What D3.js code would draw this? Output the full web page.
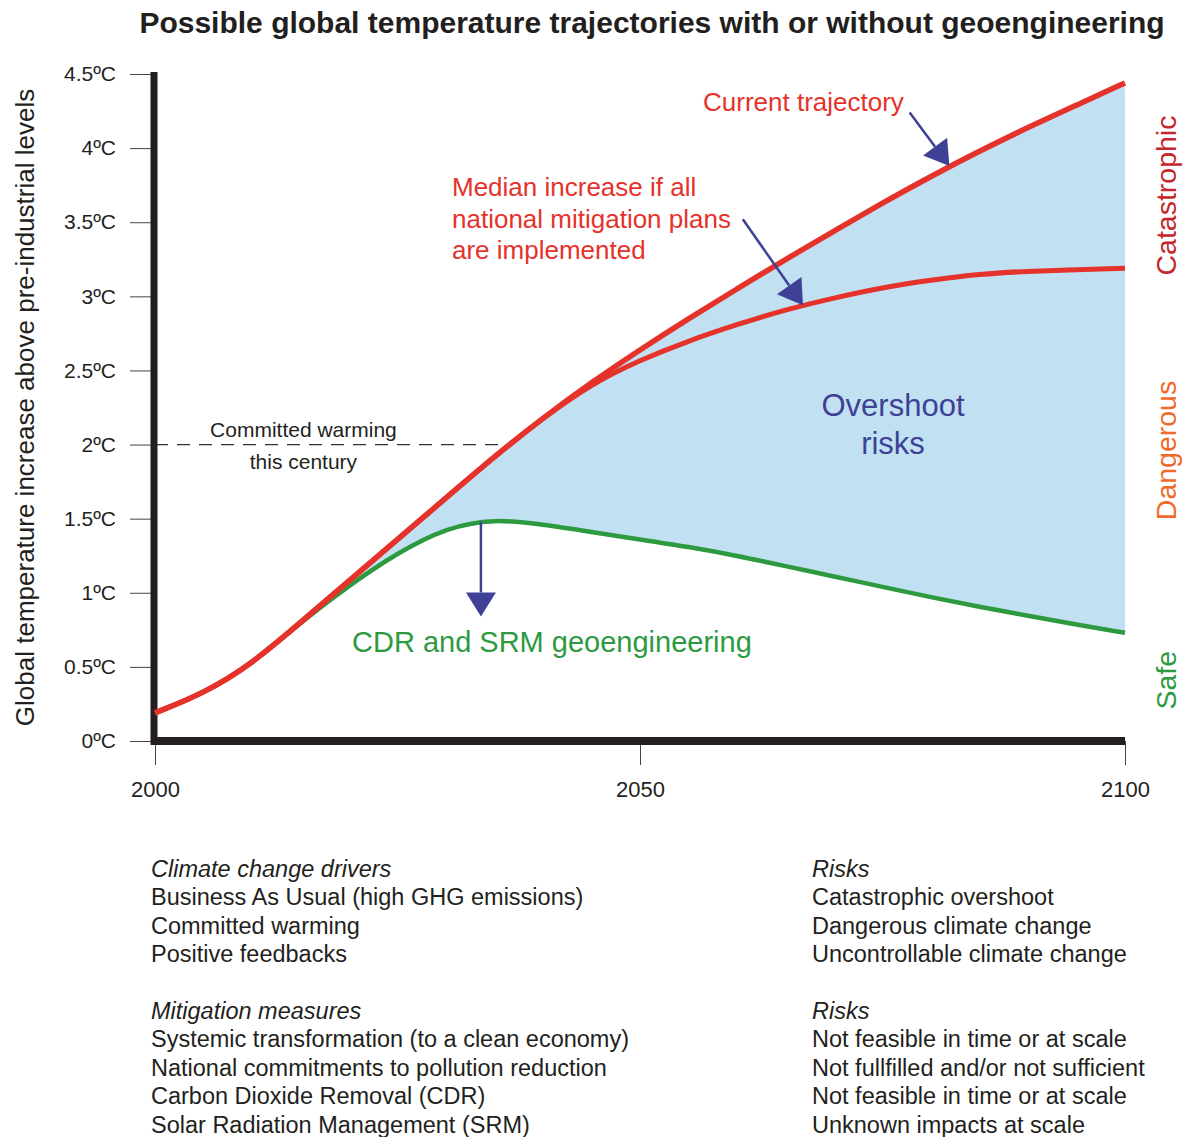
<!DOCTYPE html>
<html lang="en">
<head>
<meta charset="UTF-8">
<title>Temperature trajectories</title>
<script src="https://d3js.org/d3.v7.min.js"></script>
<style>
  body { margin: 0; background: #fff; }
  text { font-family: "Liberation Sans", Arial, Helvetica, sans-serif; }
</style>
</head>
<body>
<svg></svg>
<script>
    var width = 1189, height = 1137;

    // data (deg C above pre-industrial)
    var years = [2000, 2005, 2010, 2015, 2020, 2025, 2030, 2035, 2040, 2045, 2050,
                 2055, 2060, 2065, 2070, 2075, 2080, 2085, 2090, 2095, 2100];
    var current = [0.19, 0.32, 0.52, 0.80, 1.08, 1.36, 1.64, 1.92, 2.18, 2.42, 2.64,
                   2.85, 3.05, 3.25, 3.44, 3.63, 3.81, 3.98, 4.14, 4.29, 4.44];
    var median = [0.19, 0.32, 0.52, 0.80, 1.08, 1.36, 1.64, 1.92, 2.18, 2.41, 2.57,
                  2.70, 2.81, 2.91, 2.99, 3.06, 3.11, 3.15, 3.17, 3.18, 3.19];
    var geoeng = [0.19, 0.32, 0.52, 0.80, 1.05, 1.27, 1.44, 1.50, 1.46, 1.41, 1.36,
                  1.31, 1.25, 1.18, 1.11, 1.04, 0.97, 0.905, 0.845, 0.785, 0.73];

    var yTicks = [0, 0.5, 1, 1.5, 2, 2.5, 3, 3.5, 4, 4.5];
    var yTickLabels = ["0ºC", "0.5ºC", "1ºC", "1.5ºC", "2ºC", "2.5ºC", "3ºC", "3.5ºC", "4ºC", "4.5ºC"];
    var xTicks = [2000, 2050, 2100];

    var zones = ["Catastrophic", "Dangerous", "Safe"];
    var zoneMid = [3.68, 1.96, 0.41];
    var zoneColors = ["#c4262e", "#ee6a2b", "#2e9a40"];

    var driversLeft = ["Climate change drivers", "Business As Usual (high GHG emissions)",
                       "Committed warming", "Positive feedbacks"];
    var driversRight = ["Risks", "Catastrophic overshoot", "Dangerous climate change",
                        "Uncontrollable climate change"];
    var mitigLeft = ["Mitigation measures", "Systemic transformation (to a clean economy)",
                     "National commitments to pollution reduction", "Carbon Dioxide Removal (CDR)",
                     "Solar Radiation Management (SRM)"];
    var mitigRight = ["Risks", "Not feasible in time or at scale", "Not fullfilled and/or not sufficient",
                      "Not feasible in time or at scale", "Unknown impacts at scale"];

    var red = "#e5322b", green = "#2e9a40", blue = "#3e4196", ink = "#231f20";

    var svg = d3.select("svg").attr("width", width).attr("height", height);

    var x = d3.scaleLinear().domain([2000, 2100]).range([155, 1125]);
    var y = d3.scaleLinear().domain([0, 4.5]).range([741, 74]);

    var rows = years.map(function (yr, i) {
        return {year: yr, cur: current[i], med: median[i], geo: geoeng[i]};
    });

    // title
    svg.append("text")
        .attr("x", 652).attr("y", 33)
        .attr("text-anchor", "middle")
        .style("font-size", "30px").style("font-weight", "bold").style("fill", ink)
        .text("Possible global temperature trajectories with or without geoengineering");

    // axis title
    svg.append("text")
        .attr("transform", "translate(34," + y(2.25) + ") rotate(-90)")
        .attr("text-anchor", "middle")
        .style("font-size", "26px").style("fill", ink)
        .text("Global temperature increase above pre-industrial levels");

    // overshoot area
    var area = d3.area()
        .x(function (d) { return x(d.year); })
        .y0(function (d) { return y(d.geo); })
        .y1(function (d) { return y(d.cur); })
        .curve(d3.curveBasis);
    svg.append("path").datum(rows)
        .attr("d", area)
        .style("fill", "#c1e1f2");

    // committed warming line
    svg.append("line")
        .attr("x1", x(2000)).attr("x2", x(2036.5))
        .attr("y1", y(2)).attr("y2", y(2))
        .style("stroke", "#333").style("stroke-width", 1.2)
        .style("stroke-dasharray", "13,9");

    svg.append("text").attr("x", x(2015.3)).attr("y", y(2) - 8)
        .attr("text-anchor", "middle").style("font-size", "21px").style("fill", ink)
        .text("Committed warming");
    svg.append("text").attr("x", x(2015.3)).attr("y", y(2) + 24)
        .attr("text-anchor", "middle").style("font-size", "21px").style("fill", ink)
        .text("this century");

    // axes
    var yAxis = d3.axisLeft(y).tickValues(yTicks).tickSize(25).tickPadding(14)
        .tickFormat(function (d, i) { return yTickLabels[i]; });
    var gy = svg.append("g").attr("transform", "translate(155,0)").call(yAxis);
    gy.select(".domain").remove();
    gy.selectAll("line").style("stroke", "#444");
    gy.selectAll("text").style("font-size", "21px").style("fill", ink)
        .style("font-family", "'Liberation Sans', Arial, sans-serif");

    var xAxis = d3.axisBottom(x).tickValues(xTicks).tickSize(24).tickPadding(16)
        .tickFormat(d3.format("d"));
    var gx = svg.append("g").attr("transform", "translate(0,741)").call(xAxis);
    gx.select(".domain").remove();
    gx.selectAll("line").style("stroke", "#444");
    gx.selectAll("text").style("font-size", "22px").style("fill", ink)
        .style("font-family", "'Liberation Sans', Arial, sans-serif");

    svg.append("line").attr("x1", 154).attr("x2", 154).attr("y1", y(4.5) - 2).attr("y2", 745)
        .style("stroke", ink).style("stroke-width", 7);
    svg.append("line").attr("x1", 151).attr("x2", x(2100)).attr("y1", 741).attr("y2", 741)
        .style("stroke", ink).style("stroke-width", 8);

    // trajectories
    function line(key) {
        return d3.line()
            .x(function (d) { return x(d.year); })
            .y(function (d) { return y(d[key]); })
            .curve(d3.curveBasis);
    }
    svg.append("path").datum(rows).attr("d", line("geo"))
        .style("fill", "none").style("stroke", green).style("stroke-width", 4.5);
    svg.append("path").datum(rows).attr("d", line("med"))
        .style("fill", "none").style("stroke", red).style("stroke-width", 5);
    svg.append("path").datum(rows).attr("d", line("cur"))
        .style("fill", "none").style("stroke", red).style("stroke-width", 5.5);

    // arrows: [start year, start temp, tip year, tip temp]
    var arrows = [[2077.8, 4.24, 2081.9, 3.88], [2060.6, 3.52, 2066.8, 2.94], [2033.6, 1.48, 2033.6, 0.84]];
    arrows.forEach(function (a) {
        var x1 = x(a[0]), y1 = y(a[1]), x2 = x(a[2]), y2 = y(a[3]);
        var ang = Math.atan2(y2 - y1, x2 - x1);
        var hl = 24, hw = 15;
        var bx = x2 - hl * Math.cos(ang), by = y2 - hl * Math.sin(ang);
        svg.append("line").attr("x1", x1).attr("y1", y1).attr("x2", bx).attr("y2", by)
            .style("stroke", blue).style("stroke-width", 2.5);
        var pts = [[x2, y2],
                   [bx + hw * Math.sin(ang), by - hw * Math.cos(ang)],
                   [bx - hw * Math.sin(ang), by + hw * Math.cos(ang)]];
        svg.append("polygon").attr("points", pts.map(function (p) { return p.join(","); }).join(" "))
            .style("fill", blue);
    });

    // in-plot labels
    svg.append("text").attr("x", 703).attr("y", 111)
        .style("font-size", "26px").style("fill", red).text("Current trajectory");
    ["Median increase if all", "national mitigation plans", "are implemented"].forEach(function (t, i) {
        svg.append("text").attr("x", 452).attr("y", 196 + i * 31.5)
            .style("font-size", "26px").style("fill", red).text(t);
    });
    ["Overshoot", "risks"].forEach(function (t, i) {
        svg.append("text").attr("x", 893).attr("y", 416 + i * 38)
            .attr("text-anchor", "middle")
            .style("font-size", "31px").style("fill", blue).text(t);
    });
    svg.append("text").attr("x", 352).attr("y", 652)
        .style("font-size", "29px").style("fill", green).text("CDR and SRM geoengineering");

    // risk zones on the right
    zones.forEach(function (z, i) {
        svg.append("text")
            .attr("transform", "translate(1176," + y(zoneMid[i]) + ") rotate(-90)")
            .attr("text-anchor", "middle")
            .style("font-size", "28.5px").style("fill", zoneColors[i]).text(z);
    });

    // notes below
    function block(lines, x0, y0) {
        lines.forEach(function (t, i) {
            svg.append("text").attr("x", x0).attr("y", y0 + i * 28.4)
                .style("font-size", "23.5px").style("fill", ink)
                .style("font-style", i === 0 ? "italic" : "normal")
                .text(t);
        });
    }
    block(driversLeft, 151, 877);
    block(driversRight, 812, 877);
    block(mitigLeft, 151, 1019);
    block(mitigRight, 812, 1019);
</script>
</body>
</html>
